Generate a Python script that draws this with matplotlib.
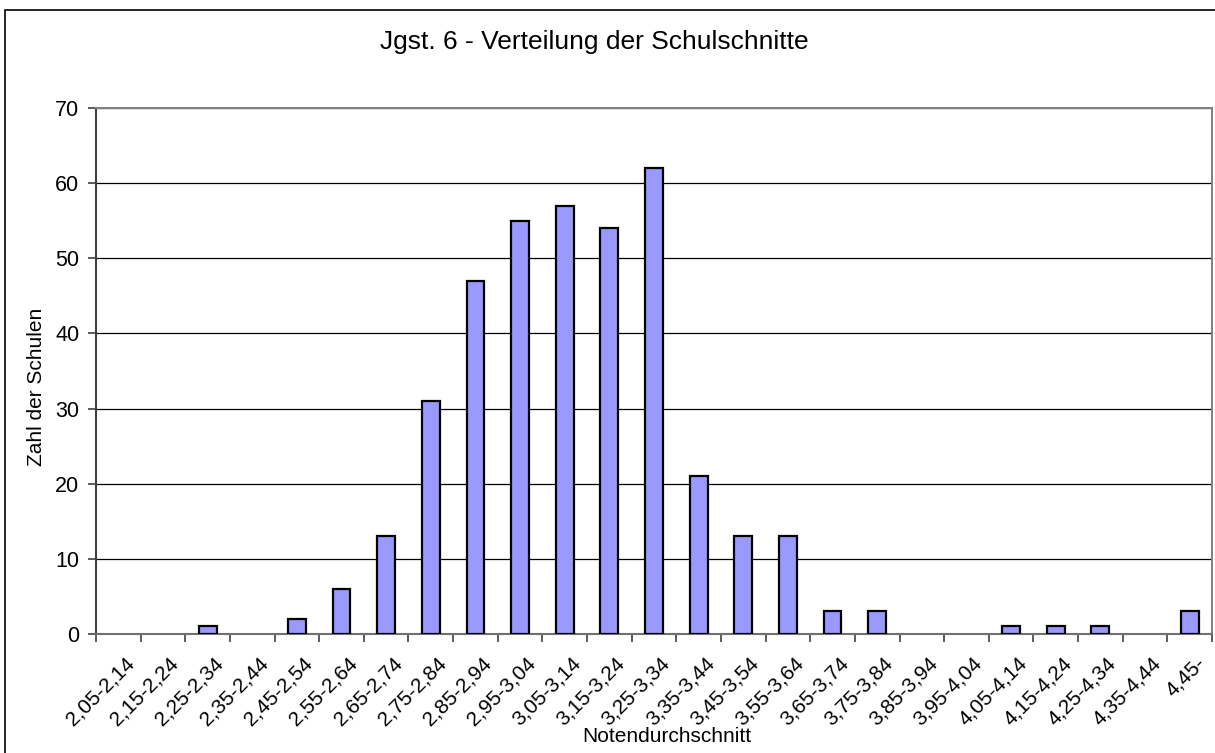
import matplotlib
matplotlib.use("Agg")
import matplotlib.pyplot as plt
from matplotlib.patches import Rectangle
import matplotlib.transforms as mtransforms
import numpy as np

plt.rcParams['font.family'] = ['Liberation Sans', 'DejaVu Sans']

categories = ["2,05-2,14", "2,15-2,24", "2,25-2,34", "2,35-2,44", "2,45-2,54",
              "2,55-2,64", "2,65-2,74", "2,75-2,84", "2,85-2,94", "2,95-3,04",
              "3,05-3,14", "3,15-3,24", "3,25-3,34", "3,35-3,44", "3,45-3,54",
              "3,55-3,64", "3,65-3,74", "3,75-3,84", "3,85-3,94", "3,95-4,04",
              "4,05-4,14", "4,15-4,24", "4,25-4,34", "4,35-4,44", "4,45-"]
counts = [0, 0, 1, 0, 2, 6, 13, 31, 47, 55, 57, 54, 62, 21, 13, 13, 3, 3, 0, 0, 1, 1, 1, 0, 3]
yticks = [0, 10, 20, 30, 40, 50, 60, 70]

fig = plt.figure(figsize=(12.15, 7.53), dpi=100)
ax = fig.add_axes([96/1215, 1-634/753, (1212-96)/1215, (634-108)/753])

x = np.arange(len(categories))
lws = [1.6 if c > 0 else 0 for c in counts]
ax.bar(x, counts, width=0.4, color='#9999ff', edgecolor='black', linewidth=lws, zorder=3)

ax.set_xlim(-0.5, len(categories)-0.5)
ax.set_ylim(0, 70)
ax.set_yticks(yticks)
ax.set_yticklabels([str(v) for v in yticks], fontsize=15.5)
ax.yaxis.grid(True, color='black', linewidth=0.9, zorder=0)
ax.set_axisbelow(True)

ax.set_xticks(x)
ax.set_xticklabels(categories, rotation=45, ha='right', va='top', rotation_mode='anchor', fontsize=15)
ax.tick_params(axis='x', which='major', length=0, pad=14)
offset = mtransforms.ScaledTranslation(6/100, 0, fig.dpi_scale_trans)
for lbl in ax.get_xticklabels():
    lbl.set_transform(lbl.get_transform() + offset)
ax.set_xticks(np.arange(-0.5, len(categories), 1.0), minor=True)
ax.tick_params(axis='x', which='minor', length=6, width=1.2, color='#404040', direction='out')
ax.tick_params(axis='y', length=6, width=1.2, color='#404040', direction='out', pad=6)

for s in ['top', 'right']:
    ax.spines[s].set_color('#808080')
    ax.spines[s].set_linewidth(1.4)
ax.spines['left'].set_color('#404040')
ax.spines['left'].set_linewidth(1.5)
ax.spines['bottom'].set_color('#707070')
ax.spines['bottom'].set_linewidth(1.5)

fig.text(37/1215, 1-387/753, 'Zahl der Schulen', fontsize=15, rotation=90, ha='center', va='center')
fig.text(667/1215, 1-736/753, 'Notendurchschnitt', fontsize=15, ha='center', va='center')
fig.text(594/1215, 1-42/753, 'Jgst. 6 - Verteilung der Schulschnitte', fontsize=19,
         ha='center', va='center')

fig.patches.append(Rectangle((5/1215, -0.1), 1.2, 1-10/753+0.1, transform=fig.transFigure,
                             fill=False, edgecolor='black', linewidth=1.2))

fig.savefig('out.png', dpi=100)
